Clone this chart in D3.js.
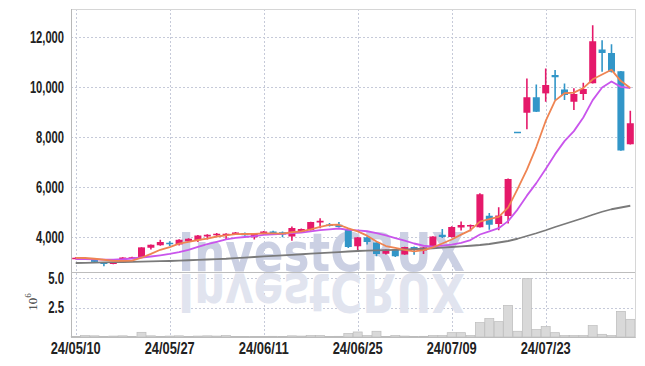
<!DOCTYPE html>
<html><head><meta charset="utf-8">
<script src="https://cdn.jsdelivr.net/npm/d3@7"></script>
<style>
body{margin:0;background:#fff}
svg{display:block}
.lbl{font-family:"Liberation Sans",Arial,sans-serif;font-weight:bold;fill:#222}
</style>
</head><body>
<svg id="c" width="645" height="366"></svg>
<script>
const dates = ["24/05/10","24/05/13","24/05/14","24/05/16","24/05/17","24/05/20","24/05/21","24/05/22","24/05/23","24/05/24",
"24/05/27","24/05/28","24/05/29","24/05/30","24/05/31","24/06/03","24/06/04","24/06/05","24/06/07","24/06/10",
"24/06/11","24/06/12","24/06/13","24/06/14","24/06/17","24/06/18","24/06/19","24/06/20","24/06/21","24/06/24",
"24/06/25","24/06/26","24/06/27","24/06/28","24/07/01","24/07/02","24/07/03","24/07/04","24/07/05","24/07/08",
"24/07/09","24/07/10","24/07/11","24/07/12","24/07/15","24/07/16","24/07/17","24/07/18","24/07/19","24/07/22",
"24/07/23","24/07/24","24/07/25","24/07/26","24/07/29","24/07/30","24/07/31","24/08/01","24/08/02","24/08/05"];

const opens = [3130,3150,3095,2990,2930,2990,3150,3165,3570,3670,3770,3700,3830,3870,4020,4070,4080,4120,4160,3990,
4140,4220,4190,4020,4200,4270,4580,4500,4490,4290,3630,3985,3780,3330,3490,3300,3600,3460,3590,4090,
4000,4380,4450,4390,4850,4520,4840,8210,8970,9590,9745,10480,9900,9410,9720,10150,11500,11360,10630,7710];
const highs = [3190,3160,3100,3000,3000,3190,3210,3590,3700,3890,3830,3910,3950,4080,4110,4160,4150,4200,4180,4140,
4240,4250,4220,4420,4340,4610,4750,4560,4600,4300,4000,4020,3790,3500,3500,3610,3620,3600,4030,4320,
4430,4620,4500,5750,4960,5190,6340,8210,10340,10100,10740,10680,10140,9950,10170,12470,11870,11710,10640,9050];
const lows = [3110,3130,3000,2830,2910,2980,3140,3160,3500,3650,3640,3660,3800,3800,3900,4040,3900,4100,4050,3900,
4110,4110,3990,3850,4180,4260,4350,4420,4380,3560,3400,3700,3230,3300,3200,3290,3290,3320,3580,3960,
3980,4260,4230,4380,4290,4270,4540,8210,8310,9000,9410,9480,9480,9080,9480,10140,10610,10580,7450,7700];
const closes = [3170,3150,3005,2920,2980,3180,3190,3585,3690,3800,3720,3890,3930,4060,4090,4130,4130,4180,4070,4130,
4220,4140,4100,4360,4320,4600,4650,4480,4400,3600,3985,3800,3320,3490,3230,3600,3495,3580,4020,4000,
4400,4480,4480,5710,4490,4860,6320,8210,9590,9010,10080,10390,9680,9720,9920,11830,11360,10610,7460,8550];

// volume in millions of shares
const volumes = [0.05,0.12,0.10,0.05,0.08,0.10,0.05,0.40,0.10,0.05,0.08,0.10,0.05,0.08,0.10,0.08,0.12,0.05,0.05,0.04,
0.05,0.06,0.04,0.10,0.08,0.12,0.12,0.05,0.06,0.29,0.43,0.12,0.49,0.05,0.12,0.08,0.05,0.06,0.12,0.12,
0.37,0.37,0.12,1.23,1.57,1.31,2.70,0.49,4.98,0.63,0.89,0.37,0.12,0.12,0.12,0.97,0.23,0.12,2.19,1.51];

const ma5 = [3165,3160,3130,3090,3045,3047,3055,3171,3325,3489,3597,3737,3806,3880,3938,4020,4068,4118,4120,4128,
4146,4148,4132,4190,4228,4304,4406,4482,4490,4346,4223,4053,3821,3639,3565,3488,3427,3479,3585,3739,
3899,4096,4276,4614,4712,4804,5172,5918,6694,7598,8642,9456,9750,9776,9958,10308,10502,10688,10236,9962];
const ma10 = [3120,3115,3105,3095,3095,3110,3140,3180,3220,3267,3322,3396,3489,3603,3714,3809,3903,3962,4000,4033,
4083,4108,4125,4155,4178,4225,4277,4307,4340,4287,4264,4230,4152,4065,3956,3856,3740,3650,3612,3652,
3694,3762,3878,4100,4226,4352,4634,5097,5654,6155,6723,7314,7834,8235,8778,9475,9979,10219,10006,9960];
const ma60 = [2960,2968,2976,2984,2992,3000,3008,3016,3024,3032,3040,3055,3070,3085,3100,3115,3130,3155,3178,3200,
3222,3244,3266,3288,3310,3332,3354,3376,3398,3420,3440,3452,3464,3476,3488,3500,3512,3530,3550,3575,
3600,3625,3650,3680,3720,3780,3840,3930,4040,4150,4270,4400,4520,4640,4760,4890,5010,5110,5180,5250];

const xTicks = ["24/05/10","24/05/27","24/06/11","24/06/25","24/07/09","24/07/23"];
const priceTicks = [4000,6000,8000,10000,12000];
const volTicks = [2.5,5.0];

const L=71,R=635,T=9,M=272,B=337;
const svg = d3.select("#c");
const x = d3.scalePoint().domain(dates).range([L,R]).padding(0.5);
const y = d3.scaleLinear().domain([2600,13120]).range([M,T]);
const yv = d3.scaleLinear().domain([0,5.55]).range([B,M]);
const bw = 7;
const UP="#e5196a", DN="#3296c8";

const defs = svg.append("defs");
defs.append("clipPath").attr("id","cp").append("rect").attr("x",L).attr("y",T).attr("width",R-L).attr("height",M-T);
defs.append("clipPath").attr("id","cv").append("rect").attr("x",L).attr("y",M).attr("width",R-L).attr("height",B-M);

// grid
const grid = svg.append("g").attr("stroke","#c6cad9").attr("stroke-width",1).attr("stroke-dasharray","2,2");
grid.selectAll(".gx").data(xTicks).join("line")
  .attr("x1",d=>Math.round(x(d))+0.5).attr("x2",d=>Math.round(x(d))+0.5).attr("y1",T).attr("y2",B);
grid.selectAll(".gy").data(priceTicks).join("line")
  .attr("x1",L).attr("x2",R).attr("y1",d=>Math.round(y(d))+0.5).attr("y2",d=>Math.round(y(d))+0.5);
grid.selectAll(".gv").data(volTicks).join("line")
  .attr("x1",L).attr("x2",R).attr("y1",d=>Math.round(yv(d))+0.5).attr("y2",d=>Math.round(yv(d))+0.5);

// watermark (with mirrored reflection in the volume panel)
const wmFont = '"DejaVu Sans","Liberation Sans",sans-serif';
svg.append("g").attr("clip-path","url(#cp)").append("text")
  .attr("x",178).attr("y",271).attr("textLength",287).attr("lengthAdjust","spacingAndGlyphs")
  .attr("font-family",wmFont).attr("font-weight","bold").attr("font-size",54)
  .attr("fill","#cbd0e3").text("InvestCRUX");
svg.append("g").attr("clip-path","url(#cv)").append("g").attr("transform","translate(0,545) scale(1,-1)")
  .append("text")
  .attr("x",178).attr("y",271).attr("textLength",287).attr("lengthAdjust","spacingAndGlyphs")
  .attr("font-family",wmFont).attr("font-weight","bold").attr("font-size",54)
  .attr("fill","#e1e4ef").text("InvestCRUX");

// volume bars
svg.append("g").selectAll("rect").data(volumes).join("rect")
  .attr("x",(d,i)=>x(dates[i])-4.5).attr("width",9)
  .attr("y",d=>yv(d)).attr("height",d=>B-yv(d))
  .attr("fill","#d9d9d9").attr("stroke","#bcbcbc").attr("stroke-width",0.7);

// candles
const cg = svg.append("g").attr("clip-path","url(#cp)");
const idx = d3.range(dates.length);
const col = i => closes[i]>opens[i]?UP:DN;
cg.selectAll(".w").data(idx).join("line")
  .attr("x1",i=>x(dates[i])).attr("x2",i=>x(dates[i]))
  .attr("y1",i=>y(highs[i])).attr("y2",i=>y(lows[i]))
  .attr("stroke",col).attr("stroke-width",1.6);
cg.selectAll(".b").data(idx).join("rect")
  .attr("x",i=>x(dates[i])-bw/2).attr("width",bw)
  .attr("y",i=>y(Math.max(opens[i],closes[i])))
  .attr("height",i=>Math.max(1.5,Math.abs(y(opens[i])-y(closes[i]))))
  .attr("fill",col);

// moving averages
const line = arr => d3.line().x((d,i)=>x(dates[i])).y(d=>y(d))(arr);
const lg = svg.append("g").attr("clip-path","url(#cp)").attr("fill","none").attr("stroke-width",1.8).attr("stroke-linejoin","round");
lg.append("path").attr("d",line(ma60)).attr("stroke","#7a7a7a");
lg.append("path").attr("d",line(ma10)).attr("stroke","#c955ec");
lg.append("path").attr("d",line(ma5)).attr("stroke","#ef8452");

// frame
const fr = svg.append("g").attr("fill","none");
fr.append("rect").attr("x",L+0.5).attr("y",T+0.5).attr("width",R-L).attr("height",B-T).attr("stroke","#d6d6d6");
fr.append("line").attr("x1",L+0.5).attr("x2",L+0.5).attr("y1",T).attr("y2",B+0.5).attr("stroke","#b8b8b8");
fr.append("line").attr("x1",L).attr("x2",R).attr("y1",M+0.5).attr("y2",M+0.5).attr("stroke","#bdbdbd");
fr.append("line").attr("x1",L).attr("x2",R+0.5).attr("y1",B+0.5).attr("y2",B+0.5).attr("stroke","#bdbdbd");

// labels (narrow font emulated with textLength)
const fmt = d3.format(",");
const w = s => s.replace(/[^0-9]/g,"").length*6.1 + s.replace(/[0-9]/g,"").length*(s.includes("/")?6.6:3.6);
svg.append("g").selectAll("text").data(priceTicks).join("text").attr("class","lbl")
  .attr("x",64).attr("y",d=>y(d)).attr("dy","0.36em").attr("text-anchor","end").attr("font-size",16)
  .attr("lengthAdjust","spacingAndGlyphs").attr("textLength",d=>w(fmt(d))).text(d=>fmt(d));
svg.append("g").selectAll("text").data(volTicks).join("text").attr("class","lbl")
  .attr("x",64).attr("y",d=>yv(d)).attr("dy","0.36em").attr("text-anchor","end").attr("font-size",16)
  .attr("lengthAdjust","spacingAndGlyphs").attr("textLength",d=>w(d.toFixed(1))).text(d=>d.toFixed(1));
svg.append("g").selectAll("text").data(xTicks).join("text").attr("class","lbl")
  .attr("x",d=>x(d)).attr("y",354).attr("text-anchor","middle").attr("font-size",16)
  .attr("lengthAdjust","spacingAndGlyphs").attr("textLength",50).text(d=>d);
const exp = svg.append("text").attr("transform","translate(37,302) rotate(-90)")
  .attr("text-anchor","middle").attr("font-family",'"Liberation Serif","DejaVu Serif",serif')
  .attr("font-size",13).attr("fill","#333");
exp.append("tspan").text("10");
exp.append("tspan").attr("dy",-6).attr("font-size",9).text("6");
</script>
</body></html>
